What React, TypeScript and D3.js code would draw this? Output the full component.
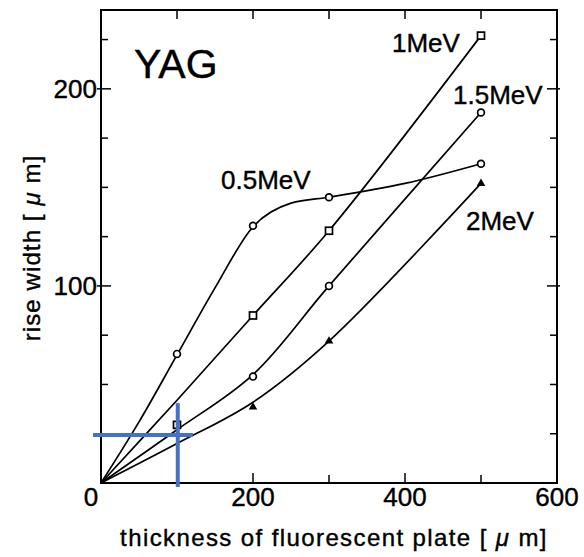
import React from 'react';
import * as d3 from 'd3';

// measured points (markers)
const halfPts = [[100, 65.5], [200, 130.5], [300, 145], [500, 162]];
const onePts = [[100, 29.5], [200, 85], [300, 128], [500, 227]];
const oneHalfPts = [[200, 54], [300, 100], [500, 188]];
const twoPts = [[200, 38.5], [300, 72], [500, 152]];

// fitted curves as drawn in the figure
const halfFit = [[0, 0], [50, 31], [100, 65], [150, 99], [200, 130], [250, 142], [300, 145], [400, 152], [500, 162]];
const oneFit = [[0, 0], [100, 42], [200, 85], [300, 128], [500, 227]];
const oneHalfFit = [[0, 0], [100, 27], [200, 55], [300, 100], [500, 188]];
const twoFit = [[0, 0], [100, 20], [200, 41], [300, 72], [500, 152]];

const xLabels = [200, 400, 600];
const yLabels = [100, 200];
const xTicks = [100, 200, 300, 400, 500];
const yTicks = d3.range(25, 240, 25);

const font = 'Liberation Sans, Arial, sans-serif';

const App = () => {
    const width = 584, height = 557;
    const x = d3.scaleLinear().domain([0, 600]).range([101, 557]);
    const y = d3.scaleLinear().domain([0, 240]).range([483, 10]);

    const line = d3.line<number[]>()
        .x(d => x(d[0]))
        .y(d => y(d[1]))
        .curve(d3.curveCatmullRom.alpha(0.5));

    const halfLine = d3.line<number[]>()
        .x(d => x(d[0]))
        .y(d => y(d[1]))
        .curve(d3.curveMonotoneX);

    const curves = [oneFit, oneHalfFit, twoFit].map((c, i) => (
        <path key={i} d={line(c) || ''} fill="none" stroke="#000" strokeWidth={1.7} />
    ));

    const circles = halfPts.concat(oneHalfPts).map((d, i) => (
        <circle key={i} cx={x(d[0])} cy={y(d[1])} r={3.4} fill="#fff" stroke="#000" strokeWidth={1.7} />
    ));
    const squares = onePts.map((d, i) => (
        <rect key={i} x={x(d[0]) - 3.5} y={y(d[1]) - 3.5} width={7} height={7} fill="#fff" stroke="#000" strokeWidth={1.7} />
    ));
    const triSym = d3.symbol().type(d3.symbolTriangle).size(32);
    const triangles = twoPts.map((d, i) => (
        <path key={i} d={triSym() || ''} transform={'translate(' + x(d[0]) + ',' + y(d[1]) + ')'} fill="#000" />
    ));

    const crossX = 101, crossY = 24.4;
    const txt = { fontFamily: font, stroke: '#000', strokeWidth: 0.4 };

    return (
        <svg width={width} height={height} style={{ position: 'absolute', left: 0, top: 0, background: '#fff' }}>
            <rect x={x(0)} y={y(240)} width={x(600) - x(0)} height={y(0) - y(240)} fill="none" stroke="#000" strokeWidth={2} />

            {xTicks.map(t => (
                <g key={'xt' + t}>
                    <line x1={x(t)} x2={x(t)} y1={y(0)} y2={y(0) - (t % 200 === 0 ? 10 : 8)} stroke="#000" strokeWidth={1.5} />
                    <line x1={x(t)} x2={x(t)} y1={y(240)} y2={y(240) + 9} stroke="#000" strokeWidth={1.5} />
                </g>
            ))}
            {yTicks.map(t => (
                <g key={'yt' + t}>
                    <line x1={x(0) - (t % 100 === 0 ? 4 : 0)} x2={x(0) + (t % 100 === 0 ? 10 : 7)} y1={y(t)} y2={y(t)} stroke="#000" strokeWidth={1.5} />
                    <line x1={x(600) + (t % 100 === 0 ? 3 : 0)} x2={x(600) - (t % 100 === 0 ? 10 : 7)} y1={y(t)} y2={y(t)} stroke="#000" strokeWidth={1.5} />
                </g>
            ))}

            {yLabels.map(t => (
                <text key={'yl' + t} x={97} y={y(t) + 9} textAnchor="end" fontSize={26} {...txt}>{t}</text>
            ))}
            {xLabels.map(t => (
                <text key={'xl' + t} x={x(t)} y={506} textAnchor="middle" fontSize={26} {...txt}>{t}</text>
            ))}
            <text x={91} y={506} textAnchor="middle" fontSize={26} {...txt}>0</text>

            <text x={334} y={546} textAnchor="middle" fontSize={24} letterSpacing={1.4} {...txt}>
                thickness of fluorescent plate [ <tspan fontStyle="italic">μ</tspan> m]
            </text>
            <text transform="translate(40,248) rotate(-90)" textAnchor="middle" fontSize={24} letterSpacing={1.1} {...txt}>
                rise width [ <tspan fontStyle="italic">μ</tspan> m]
            </text>

            <path d={halfLine(halfFit) || ''} fill="none" stroke="#000" strokeWidth={1.7} />
            {curves}
            {circles}
            {squares}
            {triangles}

            <text x={134} y={78} fontSize={41} {...txt}>YAG</text>
            <text x={392} y={52} fontSize={26} {...txt}>1MeV</text>
            <text x={453} y={104} fontSize={26} {...txt}>1.5MeV</text>
            <text x={221} y={189} fontSize={26} {...txt}>0.5MeV</text>
            <text x={466} y={230} fontSize={26} {...txt}>2MeV</text>

            <line x1={x(-10.5)} x2={x(121)} y1={y(crossY)} y2={y(crossY)} stroke="#4472C4" strokeWidth={4} />
            <line x1={x(crossX)} x2={x(crossX)} y1={y(40.5)} y2={y(-2)} stroke="#4472C4" strokeWidth={4} />
        </svg>
    );
};

export default App;
